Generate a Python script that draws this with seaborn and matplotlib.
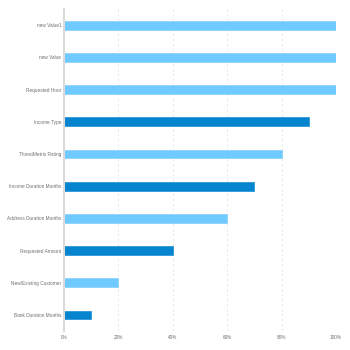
import matplotlib
matplotlib.use("Agg")
import matplotlib.pyplot as plt
import seaborn as sns
import pandas as pd
from matplotlib.ticker import FixedLocator, PercentFormatter

features = ["new Value1", "new Value", "Requested Hour", "Income Type", "ThreatMetrix Rating",
            "Income Duration Months", "Address Duration Months", "Requested Amount",
            "New/Existing Customer", "Bank Duration Months"]
values = [100, 100, 100, 90, 80, 70, 60, 40, 20, 10]
groups = ["light", "light", "light", "dark", "light", "dark", "light", "dark", "light", "dark"]
xticks = [0, 20, 40, 60, 80, 100]

palette = {"light": "#6ECAFF", "dark": "#0585CF"}

df = pd.DataFrame({"feature": features, "value": values, "group": groups})

sns.set_style("white")
plt.rcParams["font.family"] = ["Liberation Sans", "DejaVu Sans"]
fig = plt.figure(figsize=(3.5, 3.5), dpi=100)
ax = fig.add_axes([0.183, 0.054, 0.777, 0.92])

sns.barplot(data=df, y="feature", x="value", hue="group", palette=palette,
            orient="h", width=0.27, dodge=False, legend=False, ax=ax, saturation=1)
for patch in ax.patches:
    fc = patch.get_facecolor()
    patch.set_linewidth(0.6)
    patch.set_edgecolor("#8BD4FF" if fc[0] > 0.3 else "#2A97D6")

ax.set_xlim(0, 100)
ax.set_ylim(9.5, -0.5)
ax.xaxis.set_major_locator(FixedLocator(xticks))
ax.xaxis.set_major_formatter(PercentFormatter(decimals=0))
ax.set_xlabel("")
ax.set_ylabel("")
ax.grid(axis="x", color="#E6E6E6", linestyle=(0, (3, 3)), linewidth=0.6)
ax.set_axisbelow(True)
for s in ["top", "right", "bottom"]:
    ax.spines[s].set_visible(False)
ax.spines["left"].set_color("#DADADA")
ax.spines["left"].set_linewidth(1.5)

ax.tick_params(axis="y", which="major", length=0, labelsize=3.4, labelcolor="#707070", pad=2)
ax.tick_params(axis="x", which="major", length=0, labelsize=3.4, labelcolor="#707070", pad=3)
ax.yaxis.set_minor_locator(FixedLocator([i + 0.5 for i in range(-1, 10)]))
ax.tick_params(axis="y", which="minor", length=3, width=0.8, color="#BBBBBB", direction="out")

fig.savefig("out.png", dpi=100)
